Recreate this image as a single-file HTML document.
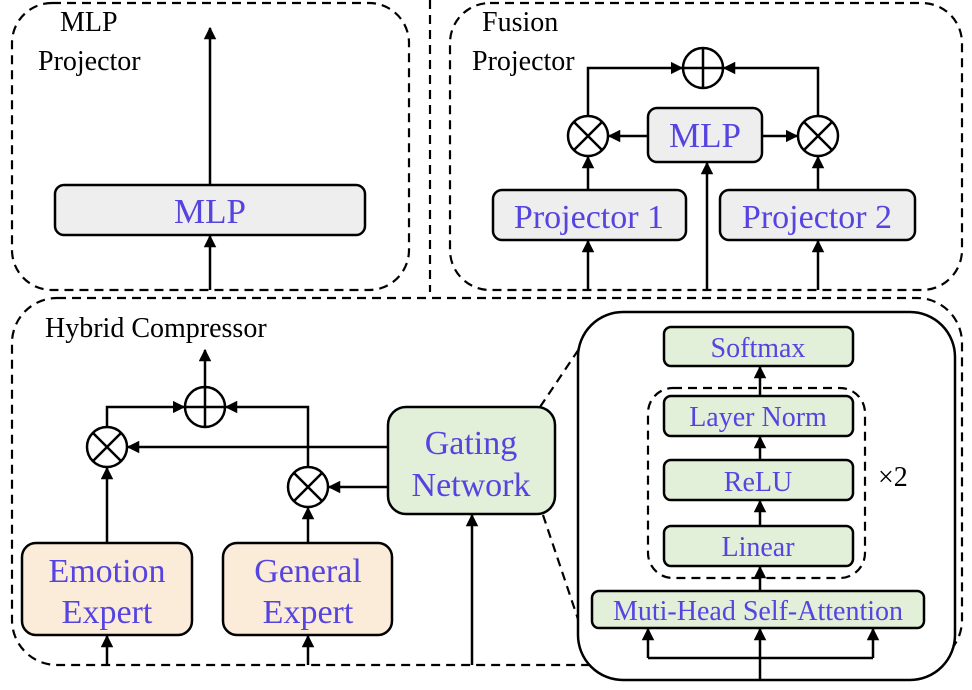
<!DOCTYPE html>
<html><head><meta charset="utf-8"><style>body{margin:0;background:#fff}svg{display:block}text{font-family:"Liberation Serif",serif}</style></head><body>
<svg width="972" height="690" viewBox="0 0 972 690" xmlns="http://www.w3.org/2000/svg">
<defs><marker id="a" viewBox="0 0 10 10" refX="9" refY="5" markerWidth="5" markerHeight="5" orient="auto"><path d="M0,0L10,5L0,10z" fill="#000"/></marker></defs>
<g fill="none" stroke="#000" stroke-width="2.2" stroke-dasharray="9,6">
<rect x="12" y="3" width="397" height="287" rx="40"/>
<rect x="450" y="3" width="512" height="287" rx="40"/>
<line x1="430" y1="0" x2="430" y2="292"/>
<rect x="12" y="298" width="950" height="367" rx="45"/>
<line x1="540" y1="407" x2="585" y2="340"/>
<line x1="543" y1="515" x2="580" y2="625"/>
</g>
<rect x="578" y="312" width="377" height="368" rx="45" fill="#fff" stroke="#000" stroke-width="2.5"/>
<rect x="648" y="388" width="217" height="190" rx="25" fill="none" stroke="#000" stroke-width="2.2" stroke-dasharray="9,6"/>
<g stroke="#000" stroke-width="2.5">
<rect x="55" y="185" width="310" height="50" rx="9" fill="#eeeeee"/>
<rect x="493" y="190" width="193" height="50" rx="9" fill="#eeeeee"/>
<rect x="720" y="190" width="195" height="50" rx="9" fill="#eeeeee"/>
<rect x="648" y="108" width="114" height="54" rx="9" fill="#eeeeee"/>
<rect x="22" y="543" width="170" height="92" rx="14" fill="#fbebd9"/>
<rect x="223" y="543" width="169" height="92" rx="14" fill="#fbebd9"/>
<rect x="388" y="407" width="167" height="107" rx="18" fill="#e2efd9"/>
<rect x="664" y="327" width="189" height="39" rx="7" fill="#e2efd9"/>
<rect x="664" y="396" width="189" height="40" rx="7" fill="#e2efd9"/>
<rect x="664" y="460" width="189" height="40" rx="7" fill="#e2efd9"/>
<rect x="664" y="526" width="189" height="40" rx="7" fill="#e2efd9"/>
<rect x="592" y="591" width="332" height="37" rx="7" fill="#e2efd9"/>
</g>
<g fill="none" stroke="#000" stroke-width="2.5" marker-end="url(#a)">
<line x1="210" y1="290" x2="210" y2="236"/>
<line x1="210" y1="185" x2="210" y2="28"/>
<line x1="588" y1="290" x2="588" y2="241"/>
<line x1="818" y1="290" x2="818" y2="241"/>
<line x1="707" y1="290" x2="707" y2="163"/>
<line x1="588" y1="190" x2="588" y2="157"/>
<line x1="818" y1="190" x2="818" y2="157"/>
<line x1="648" y1="136" x2="609" y2="136"/>
<line x1="762" y1="136" x2="797" y2="136"/>
<polyline points="588,116 588,68 682,68"/>
<polyline points="818,116 818,68 724,68"/>
<line x1="107" y1="665" x2="107" y2="636"/>
<line x1="308" y1="665" x2="308" y2="636"/>
<line x1="472" y1="665" x2="472" y2="515"/>
<line x1="107" y1="543" x2="107" y2="468"/>
<line x1="308" y1="543" x2="308" y2="508"/>
<line x1="388" y1="447" x2="128" y2="447"/>
<line x1="388" y1="487" x2="329" y2="487"/>
<polyline points="107,427 107,407 184,407"/>
<polyline points="308,467 308,407 226,407"/>
<line x1="205" y1="387" x2="205" y2="350"/>
<line x1="760" y1="396" x2="760" y2="367"/>
<line x1="760" y1="460" x2="760" y2="437"/>
<line x1="760" y1="526" x2="760" y2="501"/>
<line x1="760" y1="591" x2="760" y2="567"/>
<line x1="648" y1="658" x2="648" y2="629"/>
<line x1="760" y1="680" x2="760" y2="629"/>
<line x1="873" y1="658" x2="873" y2="629"/>
</g>
<line x1="648" y1="658" x2="873" y2="658" stroke="#000" stroke-width="2.5"/>
<g fill="#fff" stroke="#000" stroke-width="2.5">
<circle cx="588" cy="136" r="20"/><circle cx="818" cy="136" r="20"/><circle cx="703" cy="68" r="20"/>
<circle cx="107" cy="447" r="20"/><circle cx="308" cy="487" r="20"/><circle cx="205" cy="407" r="20"/>
</g>
<g stroke="#000" stroke-width="2.5">
<path d="M574,122L602,150M602,122L574,150M804,122L832,150M832,122L804,150M683,68H723M703,48V88"/>
<path d="M93,433L121,461M121,433L93,461M294,473L322,501M322,473L294,501M185,407H225M205,387V427"/>
</g>
<g font-size="28" fill="#000">
<text x="60" y="31">MLP</text><text x="38" y="70">Projector</text>
<text x="482" y="31">Fusion</text><text x="472" y="70">Projector</text>
<text x="45" y="337">Hybrid Compressor</text>
<text x="878" y="486">×2</text>
</g>
<g fill="#5544e0" text-anchor="middle">
<text x="210" y="223" font-size="35">MLP</text>
<text x="589" y="228" font-size="34">Projector 1</text>
<text x="817" y="228" font-size="34">Projector 2</text>
<text x="705" y="147" font-size="35">MLP</text>
<text x="107" y="582" font-size="34">Emotion</text><text x="107" y="623" font-size="34">Expert</text>
<text x="308" y="582" font-size="34">General</text><text x="308" y="623" font-size="34">Expert</text>
<text x="471" y="454" font-size="34">Gating</text><text x="471" y="496" font-size="34">Network</text>
<text x="758" y="357" font-size="28">Softmax</text>
<text x="758" y="426" font-size="28">Layer Norm</text>
<text x="758" y="491" font-size="28">ReLU</text>
<text x="758" y="556" font-size="28">Linear</text>
<text x="758" y="620" font-size="28">Muti-Head Self-Attention</text>
</g>
</svg>
</body></html>
